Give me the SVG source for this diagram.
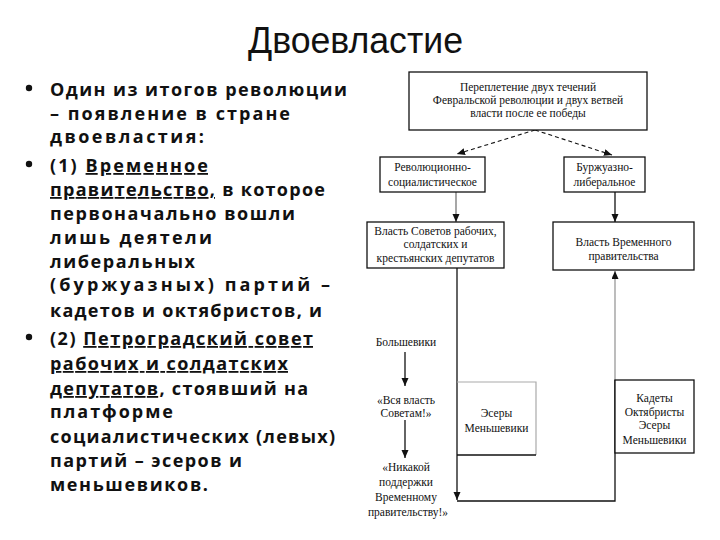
<svg xmlns="http://www.w3.org/2000/svg" width="720" height="540" viewBox="0 0 720 540">
<style>
.title{font-family:"Liberation Sans","Open Sans",sans-serif;font-size:37px;fill:#111}
.b{font-family:"Open Sans","Liberation Sans",sans-serif;font-weight:700;font-size:18px;fill:#111}
.u{text-decoration:underline}
.d{font-family:"Liberation Serif","DejaVu Serif",serif;font-size:11.5px;fill:#111;text-anchor:middle}
.box{fill:#fff;stroke:#111;stroke-width:1.3}
.ln{fill:none;stroke:#111;stroke-width:1.3}
.fa{fill:none;stroke:#aaa;stroke-width:1.2}
.ds{fill:none;stroke:#111;stroke-width:1.1;stroke-dasharray:4,3}
</style>
<defs>
<marker id="ah" markerUnits="userSpaceOnUse" markerWidth="9" markerHeight="8" refX="8" refY="3.5" orient="auto">
<path d="M0,0 L8,3.5 L0,7 z" fill="#111"/>
</marker>
</defs>
<rect width="720" height="540" fill="#fff"/>
<g id="title"><text class="title" x="248" y="53" textLength="215" lengthAdjust="spacingAndGlyphs">Двоевластие</text></g>
<g id="bullets">
<circle cx="29" cy="88" r="3.2" fill="#111"/>
<circle cx="29" cy="164" r="3.2" fill="#111"/>
<circle cx="29" cy="337" r="3.2" fill="#111"/>
<text class="b" x="50" y="96" textLength="297" lengthAdjust="spacing">Один из итогов революции</text>
<text class="b" x="50" y="120" textLength="240" lengthAdjust="spacing">– появление в стране</text>
<text class="b" x="50" y="143" textLength="154" lengthAdjust="spacing">двоевластия:</text>
<text class="b" x="50" y="172" textLength="158" lengthAdjust="spacing">(1) <tspan class="u">Временное</tspan></text>
<text class="b" x="50" y="196" textLength="275" lengthAdjust="spacing"><tspan class="u">правительство,</tspan> в которое</text>
<text class="b" x="50" y="220" textLength="245" lengthAdjust="spacing">первоначально вошли</text>
<text class="b" x="50" y="244" textLength="162" lengthAdjust="spacing">лишь деятели</text>
<text class="b" x="50" y="268" textLength="145" lengthAdjust="spacing">либеральных</text>
<text class="b" x="50" y="291" textLength="280" lengthAdjust="spacing">(буржуазных) партий –</text>
<text class="b" x="50" y="317" textLength="272" lengthAdjust="spacing">кадетов и октябристов, и</text>
<text class="b" x="50" y="345" textLength="263" lengthAdjust="spacing">(2) <tspan class="u">Петроградский совет</tspan></text>
<text class="b" x="50" y="370" textLength="238" lengthAdjust="spacing"><tspan class="u">рабочих и солдатских</tspan></text>
<text class="b" x="50" y="395" textLength="258" lengthAdjust="spacing"><tspan class="u">депутатов</tspan>, стоявший на</text>
<text class="b" x="50" y="418" textLength="123" lengthAdjust="spacing">платформе</text>
<text class="b" x="50" y="443" textLength="285" lengthAdjust="spacing">социалистических (левых)</text>
<text class="b" x="50" y="467" textLength="192" lengthAdjust="spacing">партий – эсеров и</text>
<text class="b" x="50" y="491" textLength="158" lengthAdjust="spacing">меньшевиков.</text>
</g>
<g id="connectors">
<path class="ds" d="M535,130 L457,154" marker-end="url(#ah)"/>
<path class="ds" d="M535,130 L612,155" marker-end="url(#ah)"/>
<path class="ln" d="M456,192 V222" style="stroke:#777" marker-end="url(#ah)"/>
<path class="ln" d="M615,192 V222" marker-end="url(#ah)"/>
<path class="ln" d="M457,268 V500" marker-end="url(#ah)"/>
<path class="ln" d="M457,501 H615 V380"/>
<path class="ln" d="M615,380 V271" style="stroke:#999" marker-end="url(#ah)"/>
<path class="ln" d="M405,352 V386" marker-end="url(#ah)"/>
<path class="ln" d="M405,420 V458" marker-end="url(#ah)"/>
</g>
<g id="n-top">
<rect class="box" x="409" y="72" width="238" height="58"/>
<text class="d" x="528" y="91">Переплетение двух течений</text>
<text class="d" x="528" y="104">Февральской революции и двух ветвей</text>
<text class="d" x="528" y="117">власти после ее победы</text>
</g>
<g id="n-rev">
<rect class="box" x="380" y="157" width="105" height="35"/>
<text class="d" x="432.5" y="171">Революционно-</text>
<text class="d" x="432.5" y="186">социалистическое</text>
</g>
<g id="n-burzh">
<rect class="box" x="564" y="157" width="81" height="35"/>
<text class="d" x="604.5" y="171">Буржуазно-</text>
<text class="d" x="604.5" y="186">либеральное</text>
</g>
<g id="n-sovety">
<rect class="box" x="367" y="222" width="137" height="46"/>
<text class="d" x="435.5" y="235">Власть Советов рабочих,</text>
<text class="d" x="435.5" y="248">солдатских и</text>
<text class="d" x="435.5" y="262">крестьянских депутатов</text>
</g>
<g id="n-vremennoe">
<rect class="box" x="553" y="222" width="141" height="48"/>
<text class="d" x="623.5" y="246">Власть Временного</text>
<text class="d" x="623.5" y="260">правительства</text>
</g>
<g id="n-bolsheviki">
<text class="d" x="406" y="346">Большевики</text>
</g>
<g id="n-vsya">
<text class="d" x="406" y="404">«Вся власть</text>
<text class="d" x="406" y="417">Советам!»</text>
</g>
<g id="n-nikakoy">
<text class="d" x="406" y="471">«Никакой</text>
<text class="d" x="406" y="486">поддержки</text>
<text class="d" x="406" y="501">Временному</text>
<text class="d" x="408" y="516">правительству!»</text>
</g>
<g id="n-esery">
<path class="fa" d="M457,382 H536 V455"/>
<path class="ln" d="M457,455 H536"/>
<text class="d" x="496.5" y="417">Эсеры</text>
<text class="d" x="496.5" y="432">Меньшевики</text>
</g>
<g id="n-kadety">
<rect class="box" x="615" y="380" width="79" height="73"/>
<text class="d" x="654.5" y="402">Кадеты</text>
<text class="d" x="654.5" y="416">Октябристы</text>
<text class="d" x="654.5" y="429">Эсеры</text>
<text class="d" x="654.5" y="444">Меньшевики</text>
</g>
</svg>
